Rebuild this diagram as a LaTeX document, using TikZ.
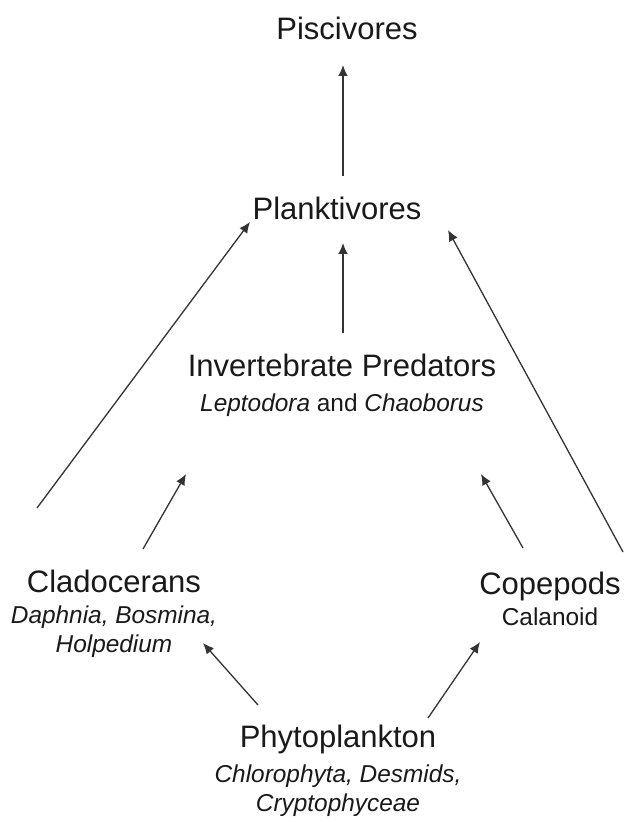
\documentclass[tikz,border=0pt]{standalone}
\usepackage{fontspec}
\setmainfont{Liberation Sans}
\usetikzlibrary{arrows.meta}
\newcommand{\Species}[1]{{\fontsize{12.2}{14.5}\selectfont #1}}

\begin{document}
\begin{tikzpicture}[
  x=0.5pt, y=-0.5pt,
  >={Latex[length=5.5pt,width=4.8pt]},
  taxon/.style={anchor=base, align=center, inner sep=0pt, text=black!90,
    font=\fontsize{15.5}{17.5}\selectfont},
  feeds/.style={->, line width=0.65pt, black!80}
]
  \useasboundingbox (0,0) rectangle (624,822);

  % base of a node is the baseline of its last line
  \node[taxon] (pisc)  at (347,40)  {Piscivores};
  \node[taxon] (plank) at (337,220) {Planktivores};
  \node[taxon] (inv)   at (342,412)
    {Invertebrate Predators\\
     \Species{\textit{Leptodora} and \textit{Chaoborus}}};
  \node[taxon] (clado) at (114,652)
    {Cladocerans\\[-2pt]
     \Species{\textit{Daphnia, Bosmina,}}\\[-3pt]
     \Species{\textit{Holpedium}}};
  \node[taxon] (cope)  at (550,625) {Copepods\\[-2pt] \Species{Calanoid}};
  \node[taxon] (phyto) at (338,811)
    {Phytoplankton\\
     \Species{\textit{Chlorophyta, Desmids,}}\\[-3pt]
     \Species{\textit{Cryptophyceae}}};

  % arrow ends, from prey to predator
  \coordinate (plank-up)   at (343,176); \coordinate (pisc-in)   at (343,65);
  \coordinate (inv-up)     at (343,333); \coordinate (plank-in)  at (343,243);
  \coordinate (clado-far)  at (37,508);  \coordinate (plank-l)   at (250,222);
  \coordinate (clado-up)   at (143,549); \coordinate (inv-l)     at (186,474);
  \coordinate (cope-up)    at (523,548); \coordinate (inv-r)     at (481,474);
  \coordinate (cope-far)   at (623,552); \coordinate (plank-r)   at (448,230);
  \coordinate (phyto-l)    at (258,705); \coordinate (clado-in)  at (203,643);
  \coordinate (phyto-r)    at (428,718); \coordinate (cope-in)   at (480,642);

  \draw[feeds] (plank-up)  -- (pisc-in);
  \draw[feeds] (inv-up)    -- (plank-in);
  \draw[feeds] (clado-far) -- (plank-l);
  \draw[feeds] (cope-far)  -- (plank-r);
  \draw[feeds] (clado-up)  -- (inv-l);
  \draw[feeds] (cope-up)   -- (inv-r);
  \draw[feeds] (phyto-l)   -- (clado-in);
  \draw[feeds] (phyto-r)   -- (cope-in);
\end{tikzpicture}
\end{document}
